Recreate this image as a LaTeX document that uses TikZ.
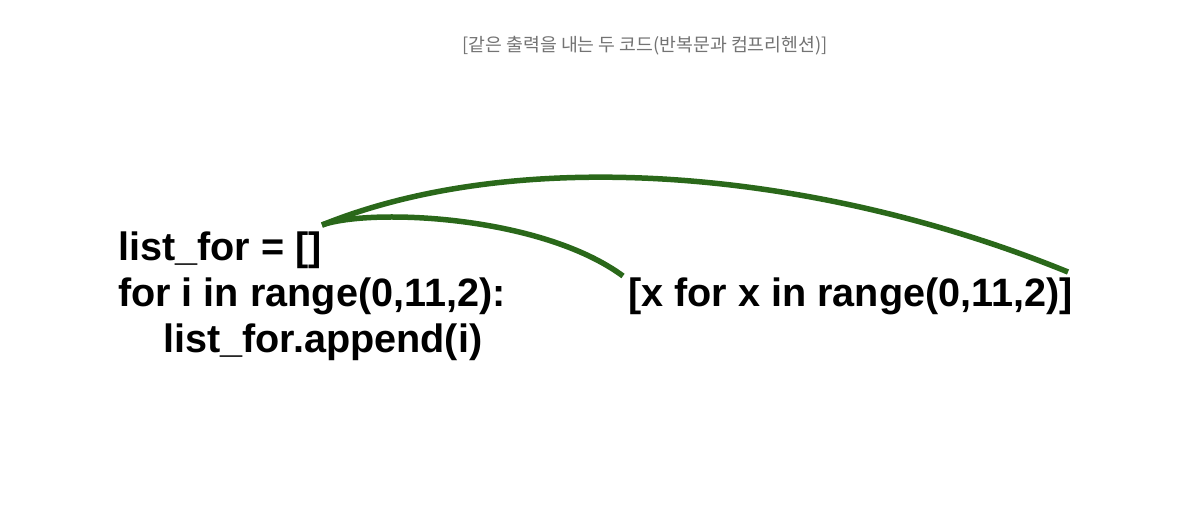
\documentclass[tikz,border=0pt]{standalone}
\usepackage{fontspec}
\setmainfont{Liberation Sans}
\newfontfamily\krfont{Noto Sans CJK KR}
\definecolor{linkgreen}{RGB}{42,104,26}
\begin{document}
\begin{tikzpicture}[x=1pt,y=-1pt,
  codetext/.style={anchor=base west, inner sep=0pt, font=\fontsize{39.6}{46}\selectfont\bfseries, text=black},
  titletext/.style={anchor=base, inner sep=0pt, font=\krfont\fontsize{18.3}{20}\selectfont, text=black!55},
  link/.style={draw=linkgreen, line width=5.5pt, line cap=butt}]
\useasboundingbox[fill=white] (0,0) rectangle (1192,512);
\node[titletext] (title) at (645,51) {[같은 출력을 내는 두 코드(반복문과 컴프리헨션)]};
\node[codetext] (l1) at (118,260) {list\_for = []};
\node[codetext] (l2) at (118,306) {for i in range(0,11,2):};
\node[codetext] (l3) at (163,352) {list\_for.append(i)};
\node[codetext] (comp) at (628,306) {[x for x in range(0,11,2)]};
\coordinate (s) at (322,225);
\coordinate (e1) at (1068,272);
\coordinate (e2) at (623,276);
\draw[link] (s) .. controls (522,144) and (818,170) .. (e1);
\draw[link] (s) .. controls (370,208) and (540,215) .. (e2);
\end{tikzpicture}
\end{document}
